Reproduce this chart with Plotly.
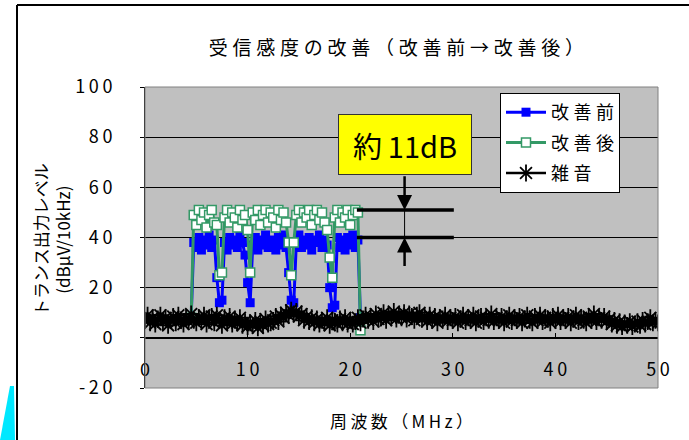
import plotly.graph_objects as go

# ---- data -------------------------------------------------------------
# signal sweep: 4.5 MHz .. 21.0 MHz every 0.25 MHz
level_before = [
    8, 38, 36, 40, 35, 39, 37, 41, 36, 39,
    24, 14, 15, 38, 35, 40, 37, 39, 36, 41,
    38, 33, 22, 14, 37, 40, 35, 39, 37, 41,
    36, 39, 38, 35, 40, 37, 41, 36, 26, 15,
    14, 38, 41, 36, 39, 37, 40, 35, 39, 38,
    41, 36, 39, 37, 20, 12, 13, 40, 36, 39,
    35, 40, 37, 41, 36, 39, 8,
]

level_after = [
    8, 49, 45, 51, 47, 50, 44, 49, 51, 46,
    45, 25, 26, 48, 51, 46, 50, 48, 44, 51,
    47, 49, 43, 26, 50, 47, 51, 45, 49, 51,
    46, 50, 48, 44, 51, 47, 50, 46, 38, 25,
    38, 49, 51, 46, 50, 48, 51, 45, 49, 51,
    47, 50, 46, 43, 32, 24, 48, 51, 46, 50,
    48, 51, 45, 49, 51, 50, 3,
]
freq_signal = [4.5 + 0.25 * i for i in range(len(level_before))]

# noise floor: 0 .. 50 MHz every 0.25 MHz
level_noise = [
    7, 9, 6, 8, 5.5, 7.5, 9, 6.5, 8, 5, 7, 8.5, 6, 9, 7, 5.5, 8, 6.5, 9.5, 7,
    6, 8, 7, 9, 5.5, 7.5, 8.5, 6, 9, 7, 5, 8, 6.5, 8.5, 5.5, 7, 6, 8, 5, 6.5,
    4.5, 6, 5, 7, 4, 6.5, 5, 7.5, 5.5, 6, 7, 8.5, 6.5, 9, 8, 10, 9, 11, 9.5, 10.5,
    8.5, 9.5, 7, 8.5, 6.5, 8, 6, 7.5, 5.5, 7, 6, 8, 5, 7, 6.5, 5.5, 7.5, 6, 8, 5.5,
    7, 5.5, 6.5, 8, 6, 7.5, 9, 7, 8.5, 6.5, 9.5, 7.5, 8, 10, 7, 9, 8, 10.5, 7.5, 9,
    8, 10, 7.5, 9.5, 8.5, 7, 9, 10, 7.5, 8.5, 6.5, 9, 7, 8.5, 6, 8, 7.5, 9, 6.5, 8,
    7, 8.5, 6, 7.5, 9, 6.5, 8, 7, 9, 6, 7.5, 8.5, 6.5, 8, 7, 9.5, 6.5, 8, 7, 8.5,
    6, 7.5, 9, 6.5, 8, 7, 8.5, 6, 7.5, 9, 7, 6, 8.5, 7, 9, 6.5, 8, 7.5, 6, 8.5,
    7, 9, 6.5, 8, 7, 8.5, 6, 7.5, 9, 6.5, 8, 7, 6, 8.5, 7, 9.5, 6.5, 8, 7, 8.5,
    6.5, 7.5, 5.5, 7, 5, 6.5, 4.5, 6, 5, 6.5, 4.5, 5.5, 6.5, 5, 7, 5.5, 6.5, 8, 6, 7,
    6,
]
freq_noise = [0.25 * i for i in range(len(level_noise))]

series_names = ["改善前", "改善後", "雑音"]

y_ticks = [-20, 0, 20, 40, 60, 80, 100]
y_tick_labels = ["-20", "0", "20", "40", "60", "80", "100"]
x_ticks = [0, 10, 20, 30, 40, 50]
x_tick_labels = ["0", "10", "20", "30", "40", "50"]

# levels marked by the improvement callout
marked_after = 51
marked_before = 40
callout_freq = 25.3

# ---- layout helpers ---------------------------------------------------
W, H = 689, 440
ML, MR, MT, MB = 145, 31, 87, 52
PW, PH = W - ML - MR, H - MT - MB


def px(x):
    return (x - ML) / PW


def py(y):
    return (MT + PH - y) / PH


def spaced(text, gap="\u2005"):
    return gap.join(text)


FONT = "Noto Sans CJK JP"
BLUE = "#0000FF"
GREEN = "#339966"

fig = go.Figure()

fig.add_trace(go.Scatter(
    x=freq_signal, y=level_before, mode="lines+markers",
    name=spaced(series_names[0]), legendgroup="a",
    line=dict(color=BLUE, width=3),
    marker=dict(symbol="square", size=9, color=BLUE),
))
fig.add_trace(go.Scatter(
    x=freq_signal, y=level_after, mode="lines+markers",
    name=spaced(series_names[1]), legendgroup="b",
    line=dict(color=GREEN, width=3),
    marker=dict(symbol="square", size=9, color="white",
                line=dict(color=GREEN, width=1.5)),
))
fig.add_trace(go.Scatter(
    x=freq_noise, y=level_noise, mode="lines+markers",
    name=spaced(series_names[2]), legendgroup="c",
    line=dict(color="black", width=2.5),
    marker=dict(symbol="asterisk-open", size=14, color="black",
                line=dict(color="black", width=1.8)),
))

fig.update_layout(
    width=W, height=H,
    margin=dict(l=ML, r=MR, t=MT, b=MB),
    paper_bgcolor="white",
    plot_bgcolor="#C0C0C0",
    font=dict(family=FONT, size=18, color="black"),
    title=dict(
        text=spaced("受信感度の改善（改善前→改善後）"),
        font=dict(family=FONT, size=19, color="black"),
        x=0.49, xref="paper", xanchor="center",
        y=1 - 48 / H, yref="container", yanchor="middle",
    ),
    showlegend=True,
    legend=dict(
        x=px(500), y=py(93), xanchor="left", yanchor="top",
        bgcolor="white", bordercolor="black", borderwidth=1,
        font=dict(family=FONT, size=18, color="black"),
        tracegroupgap=4, itemwidth=40,
    ),
    xaxis=dict(
        range=[0, 50], anchor="free", position=1 / 6,
        showline=True, linecolor="black", linewidth=1,
        ticks="inside", ticklen=5, tickcolor="black",
        tickvals=x_ticks, ticktext=[spaced(t, "\u2009") for t in x_tick_labels],
        ticklabelstandoff=16,
        showgrid=False, zeroline=False,
        tickfont=dict(family=FONT, size=18, color="black"),
    ),
    yaxis=dict(
        range=[-20, 100],
        showline=True, linecolor="black", linewidth=1,
        ticks="outside", ticklen=4, tickcolor="black",
        tickvals=y_ticks, ticktext=[spaced(t, "\u2009") for t in y_tick_labels],
        ticklabelstandoff=24,
        showgrid=True, gridcolor="black", gridwidth=1,
        zeroline=False,
        tickfont=dict(family=FONT, size=18, color="black"),
    ),
)

shapes = [
    # plot-area frame
    dict(type="rect", xref="paper", yref="paper", x0=0, x1=1, y0=0, y1=1,
         line=dict(color="#808080", width=1), layer="above"),
    # outer chart frame
    dict(type="line", xref="paper", yref="paper",
         x0=px(17), x1=px(17), y0=py(5), y1=py(445),
         line=dict(color="black", width=2)),
    dict(type="line", xref="paper", yref="paper",
         x0=px(17), x1=px(695), y0=py(5), y1=py(5),
         line=dict(color="black", width=2)),
    # cyan wedge at lower-left corner
    dict(type="path", xref="paper", yref="paper",
         path=(f"M {px(0)},{py(440)} L {px(10)},{py(386)} "
               f"L {px(14)},{py(386)} L {px(15)},{py(440)} Z"),
         fillcolor="#00E8FF", line=dict(width=0)),
    # improvement markers
    dict(type="line", xref="x", yref="y", x0=20.65, x1=30.1,
         y0=marked_after, y1=marked_after, line=dict(color="black", width=3.5)),
    dict(type="line", xref="x", yref="y", x0=20.65, x1=30.1,
         y0=marked_before, y1=marked_before, line=dict(color="black", width=3.5)),
    dict(type="line", xref="x", yref="y", x0=callout_freq, x1=callout_freq,
         y0=marked_before, y1=marked_after, line=dict(color="black", width=1)),
]
fig.update_layout(shapes=shapes)

fig.add_annotation(
    x=callout_freq, y=77.2, xref="x", yref="y",
    text="約\u200911dB",
    showarrow=False, width=130, height=57,
    bgcolor="#FFFF00", bordercolor="#333333", borderwidth=1, borderpad=1,
    font=dict(family=FONT, size=29, color="black"),
)
fig.add_annotation(
    x=callout_freq, y=marked_after, xref="x", yref="y",
    ax=callout_freq, ay=65, axref="x", ayref="y",
    text="", showarrow=True, arrowhead=2, arrowsize=1.2, arrowwidth=2.5,
    arrowcolor="black", standoff=0,
)
fig.add_annotation(
    x=callout_freq, y=marked_before, xref="x", yref="y",
    ax=callout_freq, ay=28, axref="x", ayref="y",
    text="", showarrow=True, arrowhead=2, arrowsize=1.2, arrowwidth=2.5,
    arrowcolor="black", standoff=0,
)

# axis titles
fig.add_annotation(
    x=px(51), y=py(240), xref="paper", yref="paper",
    text="トランス出力レベル<br>(dBμV/10kHz)", textangle=-90,
    showarrow=False, xanchor="center", yanchor="middle",
    font=dict(family=FONT, size=17, color="black"),
)
fig.add_annotation(
    x=px(401), y=py(420), xref="paper", yref="paper",
    text=spaced("周波数（MHz）", "\u2009"),
    showarrow=False, xanchor="center", yanchor="middle",
    font=dict(family=FONT, size=17, color="black"),
)

fig.write_html("out.html")
